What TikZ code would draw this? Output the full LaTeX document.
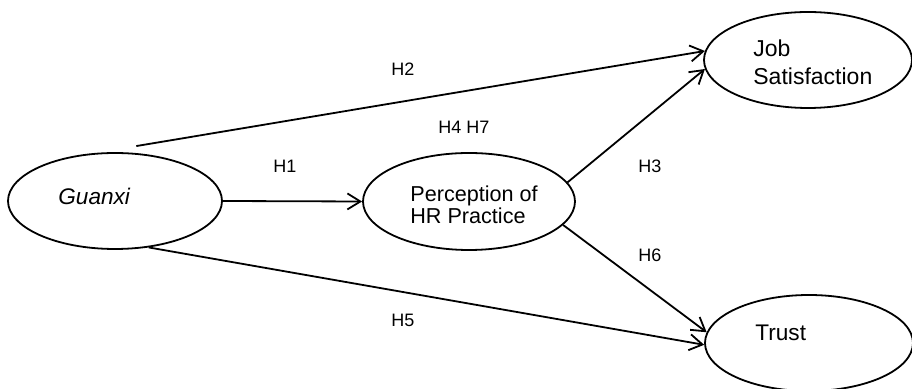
\documentclass[tikz,border=0pt]{standalone}
\usepackage{fontspec}
\setmainfont{Liberation Sans}
\usetikzlibrary{arrows.meta,shapes.geometric}

\tikzset{
  factor/.style={draw, ellipse, line width=0.9pt, inner sep=0pt},
  link/.style={-{Straight Barb[length=6.5pt,width=8pt]}, line width=0.9pt},
  hyp/.style={font=\fontsize{9}{9}\selectfont, anchor=base west, inner sep=0pt},
  txt/.style={font=\fontsize{11.3}{11.3}\selectfont, inner sep=0pt, align=left}
}

\begin{document}
\begin{tikzpicture}[x=0.5pt,y=-0.5pt]
\useasboundingbox (0,0) rectangle (912,389);

% the four constructs
\node[factor, minimum width=107pt, minimum height=48pt] (g) at (115,201) {};
\node[factor, minimum width=106pt, minimum height=48.5pt] (p) at (469,201.5) {};
\node[factor, minimum width=104pt, minimum height=48pt] (j) at (808,60) {};
\node[factor, minimum width=104pt, minimum height=48pt] (t) at (809,343) {};

\node[txt, anchor=base west, font=\fontsize{11.3}{11.3}\selectfont\itshape] (gtxt) at (58,205) {Guanxi};
\node[txt, anchor=west, font=\fontsize{10.8}{10}\selectfont] (ptxt) at (410,205) {Perception of\\HR Practice};
\node[txt, anchor=west, font=\fontsize{11.5}{14}\selectfont] (jtxt) at (753,62) {Job\\Satisfaction};
\node[txt, anchor=base west] (ttxt) at (755,341) {Trust};

% paths
\draw[link] ([yshift=3.5pt]g.66) -- (j.175);
\draw[link] (g.east) -- (p.west);
\draw[link] (p.11) -- (j.185);
\draw[link] (p.-14) -- (t.174);
\draw[link] (g.-54) -- (t.181);

% hypotheses
\node[hyp] (h2) at (391,76) {H2};
\node[hyp] (h47) at (438,134) {H4 H7};
\node[hyp] (h1) at (273,173) {H1};
\node[hyp] (h3) at (638,173) {H3};
\node[hyp] (h6) at (638,262) {H6};
\node[hyp] (h5) at (391,327) {H5};
\end{tikzpicture}
\end{document}
